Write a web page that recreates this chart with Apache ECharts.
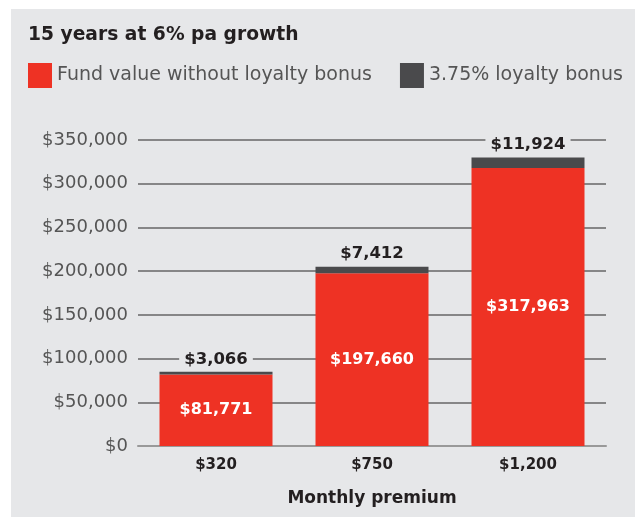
<!DOCTYPE html>
<html><head><meta charset="utf-8">
<script src="https://cdn.jsdelivr.net/npm/echarts@6/dist/echarts.min.js"></script>
<style>html,body{margin:0;padding:0;background:#fff}#c{width:635px;height:517px}</style>
</head><body><div id="c"></div>
<script>
const categories = ['$320', '$750', '$1,200'];
const fundValues = [81771, 197660, 317963];
const bonusValues = [3066, 7412, 11924];
const seriesNames = ['Fund value without loyalty bonus', '3.75% loyalty bonus'];
const titleText = '15 years at 6% pa growth';
const xAxisName = 'Monthly premium';

const BG = '#e6e7e9';
const FONT = '"DejaVu Sans", sans-serif';
const fmt = v => '$' + v.toLocaleString('en-US');

const chart = echarts.init(document.getElementById('c'));
chart.setOption({
  backgroundColor: '#fff',
  animation: false,
  graphic: [{ type: 'rect', left: 11, top: 9, shape: { width: 624, height: 508 }, style: { fill: BG }, z: -10 }],
  title: { text: titleText, left: 23, top: 21, textStyle: { fontFamily: FONT, fontSize: 18.7, fontWeight: 'bold', color: '#231f20' } },
  legend: {
    left: 28, top: 63, padding: 0, icon: 'rect', itemWidth: 24, itemHeight: 25, itemGap: 28,
    textStyle: { fontFamily: FONT, fontSize: 19, color: '#555', padding: [0, 0, 0, 0] },
    data: seriesNames
  },
  grid: { left: 138, right: 29, top: 140, bottom: 71 },
  xAxis: {
    type: 'category', data: categories,
    axisTick: { show: false },
    axisLine: { lineStyle: { color: '#999', width: 2 } },
    axisLabel: { fontFamily: FONT, fontSize: 15, fontWeight: 'bold', color: '#231f20', margin: 12 },
    name: xAxisName, nameLocation: 'middle', nameGap: 44,
    nameTextStyle: { fontFamily: FONT, fontSize: 17, fontWeight: 'bold', color: '#231f20' }
  },
  yAxis: {
    type: 'value', min: 0, max: 350000, interval: 50000,
    axisLine: { show: false }, axisTick: { show: false },
    splitLine: { lineStyle: { color: '#666', width: 1.5 } },
    axisLabel: { fontFamily: FONT, fontSize: 18, color: '#555', margin: 10, formatter: v => fmt(v) }
  },
  series: [
    {
      name: seriesNames[0], type: 'bar', stack: 'a', data: fundValues, barWidth: 113,
      itemStyle: { color: '#ee3224' },
      label: { show: true, position: 'inside', formatter: p => fmt(p.value), fontFamily: FONT, fontSize: 16, fontWeight: 'bold', color: '#fff' }
    },
    {
      name: seriesNames[1], type: 'bar', stack: 'a', data: bonusValues, barWidth: 113,
      itemStyle: { color: '#4a4a4c' },
      label: { show: true, position: 'top', distance: 4, formatter: p => fmt(p.value), fontFamily: FONT, fontSize: 16.5, fontWeight: 'bold', color: '#231f20', backgroundColor: BG, padding: [0, 5] }
    }
  ]
});
</script></body></html>
